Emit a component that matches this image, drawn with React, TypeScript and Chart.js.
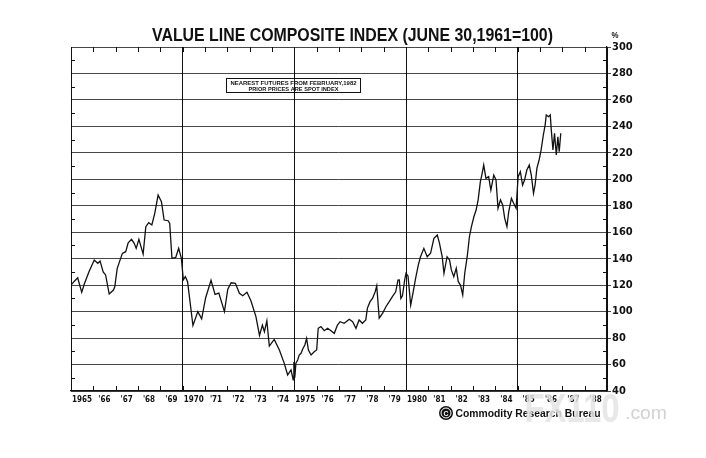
import React, { useEffect, useRef } from 'react';
import { Chart, registerables } from 'chart.js';

Chart.register(...registerables);

// ---- data ----
const dates = [
  1965.0, 1965.15, 1965.3, 1965.48, 1965.6, 1965.8, 1966.04, 1966.2, 1966.3, 1966.44, 1966.55, 1966.71, 1966.9, 1966.96,
  1967.07, 1967.3, 1967.45, 1967.56, 1967.71, 1967.83, 1967.92, 1968.04, 1968.23, 1968.35, 1968.48, 1968.62, 1968.75, 1968.9,
  1969.05, 1969.17, 1969.35, 1969.42, 1969.52, 1969.69, 1969.82, 1969.94, 1970.03, 1970.12, 1970.22, 1970.46, 1970.68, 1970.85,
  1971.03, 1971.27, 1971.45, 1971.62, 1971.87, 1972.02, 1972.17, 1972.36, 1972.54, 1972.69, 1972.88, 1973.06, 1973.28, 1973.44,
  1973.57, 1973.66, 1973.77, 1973.88, 1974.1, 1974.33, 1974.55, 1974.7, 1974.85, 1974.95, 1974.98,
  1975.02, 1975.07, 1975.15, 1975.22, 1975.3, 1975.37, 1975.47, 1975.55, 1975.63, 1975.75, 1975.89, 1976.0,
  1976.07, 1976.19, 1976.34, 1976.49, 1976.64, 1976.79, 1976.93, 1977.05, 1977.23, 1977.46, 1977.61, 1977.76,
  1977.9, 1978.05, 1978.2, 1978.27, 1978.39, 1978.5, 1978.62, 1978.69, 1978.8, 1978.95, 1979.1, 1979.25,
  1979.39, 1979.54, 1979.64, 1979.7, 1979.77, 1979.84, 1979.94, 1980.0, 1980.09, 1980.21, 1980.31, 1980.43,
  1980.55, 1980.65, 1980.8, 1980.95, 1981.1, 1981.25, 1981.4, 1981.5, 1981.62, 1981.7, 1981.84, 1981.95,
  1982.03, 1982.14, 1982.25, 1982.34, 1982.44, 1982.54, 1982.63, 1982.74, 1982.84, 1982.93, 1983.04, 1983.14,
  1983.23, 1983.33, 1983.41, 1983.48, 1983.58, 1983.7, 1983.8, 1983.93, 1984.03, 1984.12, 1984.23, 1984.33,
  1984.42, 1984.52, 1984.6, 1984.72, 1984.82, 1984.93, 1985.02, 1985.12, 1985.22, 1985.31, 1985.41, 1985.52,
  1985.61, 1985.71, 1985.78, 1985.86, 1985.96, 1986.05, 1986.15, 1986.23, 1986.28, 1986.38, 1986.46, 1986.5,
  1986.58, 1986.65, 1986.73, 1986.8, 1986.86, 1986.93,
];

const values = [
  120, 123, 125.6, 114.6, 121, 130, 139, 136.5, 138.3, 130, 127.7, 113.3, 116.3, 118.8,
  132.7, 144, 145.3, 152, 154.6, 151.6, 147.8, 154.6, 143.5, 164.2, 167.2, 165.5, 174.3, 188.1,
  183, 169.2, 168.7, 166.7, 140.3, 141, 147.8, 140.5, 124, 126.4, 122.6, 89.5, 100, 94.5,
  110.5, 123.6, 113, 114, 100, 117, 121.8, 121.4, 113.8, 112, 114.6, 108, 96.2, 82,
  89.9, 84.8, 93.1, 74, 79, 71, 60.9, 52.1, 55.9, 48.5, 62,
  50, 61, 63.4, 67.2, 68.5, 71.5, 74.8, 79.8, 71, 67.2, 69.7, 71,
  87.4, 88.6, 85.6, 87.4, 85.6, 83.6, 89.9, 92.4, 91.2, 94.2, 92.4, 87.4,
  93.7, 91.2, 93.7, 102.5, 107.5, 110, 115, 119.4, 95, 98.7, 103.7, 107.5,
  111.3, 115, 123.9, 124, 110, 112, 123.9, 129, 127, 105, 113.8, 125.2,
  135.2, 141.5, 147.8, 141.5, 144.1, 155.4, 157.9, 151.6, 141.5, 129, 141.5, 139,
  131.5, 126.4, 132.7, 122.6, 120.1, 112.6, 129, 141.5, 156.6, 164.2, 171.7, 176.8,
  184.4, 198.2, 204.5, 210.8, 200.7, 202, 191.9, 203.2, 199.5, 178.1, 184.4, 180.6,
  170.5, 164.2, 175.5, 185.6, 181.9, 178.1, 202, 205.8, 195.7, 199.5, 207, 210.8,
  203.2, 189.4, 195.7, 208.3, 214.6, 222.2, 233.5, 241, 248.6, 247.3, 248.6, 238.5,
  222.2, 234.8, 218.4, 232.2, 220.9, 234.8,
];

const yearTicks = [
  1965, 1966, 1967, 1968, 1969, 1970, 1971, 1972, 1973, 1974, 1975, 1976, 1977,
  1978, 1979, 1980, 1981, 1982, 1983, 1984, 1985, 1986, 1987, 1988, 1989,
];
const yearLabels = [
  '1965', "'66", "'67", "'68", "'69", '1970', "'71", "'72", "'73", "'74", '1975', "'76",
  "'77", "'78", "'79", '1980', "'81", "'82", "'83", "'84", "'85", "'86", "'87", "'88",
];
const majorYears = [1965, 1970, 1975, 1980, 1985, 1989];
const minorYTicks = [50, 70, 90, 110, 130, 150, 170, 190, 210, 230, 250, 270, 290];

const titleText = 'VALUE LINE COMPOSITE INDEX (JUNE 30,1961=100)';
const noteLines = ['NEAREST FUTURES FROM FEBRUARY,1982', 'PRIOR PRICES ARE SPOT INDEX'];
const sourceText = 'Commodity Research Bureau';

const NARROW = "'Liberation Sans Narrow', 'DejaVu Sans Condensed', 'Arial Narrow', sans-serif";
const SANS = "'Liberation Sans', Arial, sans-serif";

function fitText(
  ctx: CanvasRenderingContext2D,
  text: string,
  cx: number,
  baseline: number,
  width: number,
  font: string,
  color: string,
) {
  ctx.save();
  ctx.font = font;
  const w = ctx.measureText(text).width || 1;
  ctx.translate(cx, baseline);
  ctx.scale(width / w, 1);
  ctx.fillStyle = color;
  ctx.textAlign = 'center';
  ctx.textBaseline = 'alphabetic';
  ctx.fillText(text, 0, 0);
  ctx.restore();
}

const decor = {
  id: 'decor',
  afterDraw(chart: any) {
    const { ctx, chartArea: a, scales } = chart;
    const x = scales.x;
    const y = scales.y;
    ctx.save();
    ctx.strokeStyle = '#111';
    ctx.lineWidth = 1;
    ctx.beginPath();
    yearTicks.forEach((v) => {
      const px = Math.round(x.getPixelForValue(v)) + 0.5;
      ctx.moveTo(px, a.bottom);
      ctx.lineTo(px, a.bottom - 5);
      ctx.moveTo(px, a.top);
      ctx.lineTo(px, a.top + 5);
    });
    minorYTicks.forEach((v) => {
      const py = Math.round(y.getPixelForValue(v)) + 0.5;
      ctx.moveTo(a.left, py);
      ctx.lineTo(a.left + 4, py);
      ctx.moveTo(a.right, py);
      ctx.lineTo(a.right - 4, py);
    });
    ctx.stroke();

    // title
    fitText(ctx, titleText, 352.5, 41, 401, `bold 18px ${SANS}`, '#111');
    // percent sign
    fitText(ctx, '%', 615, 38, 7, `bold 9px ${SANS}`, '#111');

    // note box
    ctx.lineWidth = 1;
    ctx.strokeStyle = '#111';
    ctx.strokeRect(226.5, 78.5, 134, 14);
    fitText(ctx, noteLines[0], 293.5, 85, 126, `bold 6px ${SANS}`, '#111');
    fitText(ctx, noteLines[1], 293.5, 91, 90, `bold 6px ${SANS}`, '#111');

    // source logo
    ctx.fillStyle = '#111';
    ctx.beginPath();
    ctx.arc(446, 413, 7, 0, Math.PI * 2);
    ctx.fill();
    ctx.strokeStyle = '#fff';
    ctx.lineWidth = 1;
    ctx.beginPath();
    ctx.arc(446, 413, 5, 0, Math.PI * 2);
    ctx.stroke();
    fitText(ctx, 'C', 446, 416, 5, `bold 8px ${SANS}`, '#fff');
    fitText(ctx, sourceText, 528, 417, 145, `bold 11px ${SANS}`, '#111');

    // watermark
    fitText(ctx, 'FX110', 572, 422, 95, `bold 40px ${SANS}`, 'rgba(228,228,228,0.85)');
    fitText(ctx, '.com', 646, 419, 42, `18px ${SANS}`, 'rgba(205,205,205,0.9)');
    ctx.restore();
  },
};

export default function App() {
  const ref = useRef<HTMLCanvasElement | null>(null);

  useEffect(() => {
    if (!ref.current) return;
    const points = dates.map((d, i) => ({ x: d, y: values[i] }));
    const chart = new Chart(ref.current, {
      type: 'line',
      data: {
        datasets: [
          {
            data: points,
            borderColor: '#111',
            borderWidth: 1.3,
            pointRadius: 0,
            tension: 0,
            fill: false,
          },
        ],
      },
      options: {
        animation: false,
        responsive: false,
        maintainAspectRatio: false,
        layout: { padding: { left: 71, top: 47, right: 0, bottom: 0 } },
        plugins: {
          legend: { display: false },
          tooltip: { enabled: false },
          title: { display: false },
        },
        scales: {
          x: {
            type: 'linear',
            min: 1965,
            max: 1989,
            afterBuildTicks: (s: any) => {
              s.ticks = yearTicks.map((v) => ({ value: v }));
            },
            afterFit: (s: any) => {
              s.height = 67;
            },
            grid: {
              drawTicks: false,
              lineWidth: 1,
              color: (c: any) =>
                majorYears.includes(c.tick?.value) ? '#111' : 'rgba(0,0,0,0)',
            },
            border: { display: true, color: '#111', width: 1.2 },
            ticks: {
              autoSkip: false,
              maxRotation: 0,
              labelOffset: 11,
              padding: 4,
              color: '#111',
              font: { family: NARROW, size: 8, weight: 'bold' },
              callback: (_v: any, i: number) => yearLabels[i] ?? '',
            },
          },
          y: {
            position: 'right',
            min: 40,
            max: 300,
            afterFit: (s: any) => {
              s.width = 99;
            },
            grid: {
              color: 'rgba(0,0,0,0.72)',
              lineWidth: 1,
              tickLength: 4,
            },
            border: { display: true, color: '#111', width: 1.2 },
            ticks: {
              stepSize: 20,
              padding: 1,
              color: '#111',
              font: { family: NARROW, size: 11, weight: 'bold' },
            },
          },
        },
      },
      plugins: [decor],
    });
    return () => chart.destroy();
  }, []);

  return (
    <div style={{ position: 'fixed', left: 0, top: 0, width: 706, height: 458, background: '#fff' }}>
      <canvas ref={ref} width={706} height={458} style={{ width: 706, height: 458, display: 'block' }} />
    </div>
  );
}
